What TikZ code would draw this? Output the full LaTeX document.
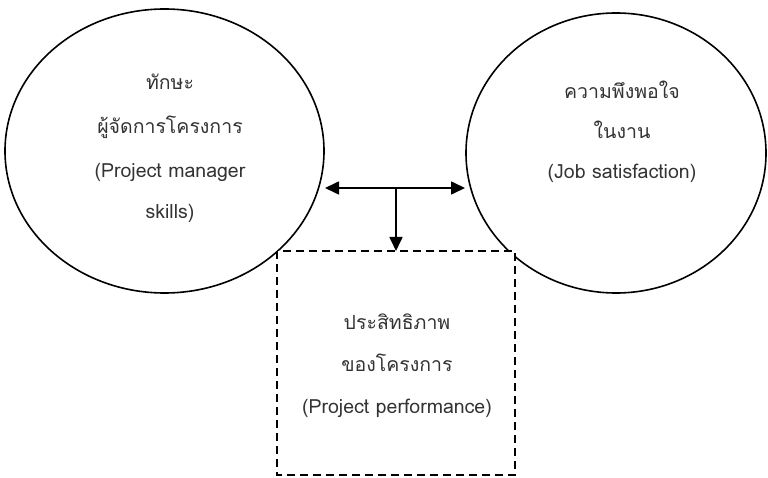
\documentclass[tikz,border=0pt]{standalone}
\usepackage{fontspec}
\newfontfamily\thaifont[Script=Thai]{Loma}
\usetikzlibrary{arrows.meta}
\begin{document}
\begin{tikzpicture}[x=1pt,y=-1pt,
  lbl/.style={font=\thaifont\fontsize{19.5}{20}\selectfont, text=black!80, inner sep=0pt, anchor=center},
  conn/.style={line width=1.6pt, -{Triangle[length=14pt,width=13pt]}},
  shp/.style={line width=1.6pt}]
\useasboundingbox (0,0) rectangle (768,478);
% shapes
\draw[shp] (164.5,151) ellipse [x radius=159.5, y radius=142];
\draw[shp] (616,153) ellipse [x radius=150, y radius=140];
\draw[shp, dashed, dash pattern=on 8pt off 5pt, fill=white] (277,251) rectangle (515,475);
\coordinate (L) at (325,188);
\coordinate (R) at (465,188);
\coordinate (M) at (396,188);
\coordinate (B) at (396,251);
\draw[conn] (M) -- (L);
\draw[conn] (M) -- (R);
\draw[conn] (M) -- (B);
% texts
\node[lbl] (l1) at (170,82) {ทักษะ};
\node[lbl] (l2) at (170,127) {ผู้จัดการโครงการ};
\node[lbl] (l3) at (170,172) {(Project manager};
\node[lbl] (l4) at (170,213) {skills)};
\node[lbl] (r1) at (622,90) {ความพึงพอใจ};
\node[lbl] (r2) at (622,130) {ในงาน};
\node[lbl] (r3) at (622,173) {(Job satisfaction)};
\node[lbl] (b1) at (397,322) {ประสิทธิภาพ};
\node[lbl] (b2) at (397,363) {ของโครงการ};
\node[lbl] (b3) at (397,408) {(Project performance)};
\end{tikzpicture}
\end{document}
